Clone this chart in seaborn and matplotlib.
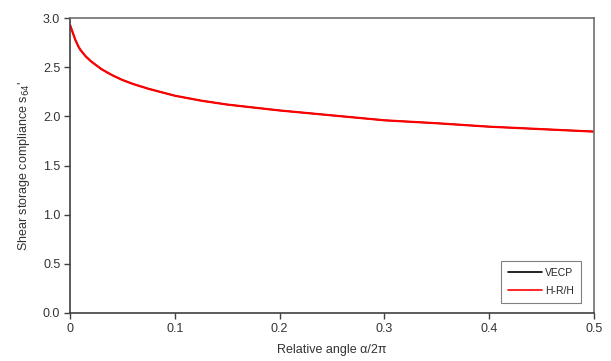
import numpy as np
import seaborn as sns
import matplotlib.pyplot as plt

sns.set_style("white")
plt.rcParams['font.family'] = ['Liberation Sans', 'DejaVu Sans']

# relative angle alpha/2pi and compliance values
angle = [0.0, 0.002, 0.005, 0.008, 0.01, 0.015, 0.02, 0.03, 0.04, 0.05, 0.06,
         0.075, 0.1, 0.125, 0.15, 0.2, 0.25, 0.3, 0.35, 0.4, 0.45, 0.5]
s_vecp = [2.93, 2.87, 2.78, 2.71, 2.675, 2.61, 2.56, 2.48, 2.42, 2.37, 2.33,
          2.28, 2.21, 2.16, 2.12, 2.06, 2.01, 1.96, 1.93, 1.895, 1.87, 1.845]
s_hrh = list(s_vecp)

fig = plt.figure(figsize=(6.11, 3.61), dpi=100)
ax = fig.add_axes([0.1146, 0.133, 0.8576, 0.817])

sns.lineplot(x=angle, y=s_vecp, ax=ax, color='black', lw=1.0, label='VECP')
sns.lineplot(x=angle, y=s_hrh, ax=ax, color='#ff0000', lw=1.6, label='H-R/H')

ax.set_xlim(0, 0.5)
ax.set_ylim(0, 3.0)
ax.set_xticks([0, 0.1, 0.2, 0.3, 0.4, 0.5])
ax.set_xticklabels(['0', '0.1', '0.2', '0.3', '0.4', '0.5'])
ax.set_yticks(np.arange(0, 3.01, 0.5))
ax.set_yticklabels([f'{v:.1f}' for v in np.arange(0, 3.01, 0.5)])

for side in ['left', 'bottom']:
    ax.spines[side].set_color('#404040')
    ax.spines[side].set_linewidth(1.2)
for side in ['top', 'right']:
    ax.spines[side].set_color('#707070')
    ax.spines[side].set_linewidth(1.2)

ax.tick_params(axis='both', direction='out', length=4, width=1, color='#404040',
               labelsize=9, labelcolor='#333333', pad=3, left=True, bottom=True)

ax.set_xlabel('Relative angle \u03b1/2\u03c0', fontsize=9, color='#333333', labelpad=7)
ax.set_ylabel("Shear storage compliance s$_{64}$'", fontsize=9, color='#333333', labelpad=8)

leg = ax.legend(loc='lower right', bbox_to_anchor=(0.975, 0.034), borderaxespad=0,
                fontsize=7.5, frameon=True, fancybox=False, handlelength=3.2,
                handletextpad=0.3, borderpad=0.7, labelspacing=0.75)
leg.get_frame().set_edgecolor('#606060')
leg.get_frame().set_linewidth(0.8)
for line in leg.get_lines():
    line.set_linewidth(1.2)

fig.savefig('out.png', dpi=100)
